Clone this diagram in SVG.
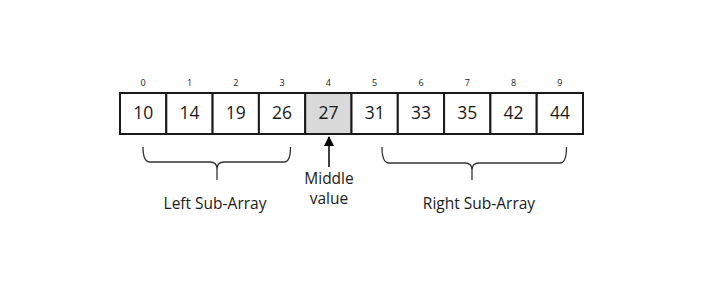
<svg xmlns="http://www.w3.org/2000/svg" width="701" height="300" viewBox="0 0 701 300">
<style>
.cell{fill:#ffffff;stroke:#1a1a1a;stroke-width:2}
.mid{fill:#d9d9d9}
.num{font-family:"Open Sans",sans-serif;font-size:17.5px;fill:#1a1a1a;text-anchor:middle}
.idx{font-family:"Open Sans",sans-serif;font-size:9px;fill:#1a1a1a;text-anchor:middle}
.lbl{font-family:"Open Sans",sans-serif;font-size:15.5px;fill:#1a1a1a;text-anchor:middle}
.brace{fill:none;stroke:#333;stroke-width:1.3}
</style>
<defs>
<marker id="ah" viewBox="0 0 10 10" refX="9" refY="5" markerWidth="10" markerHeight="10" markerUnits="userSpaceOnUse" orient="auto">
<path d="M0,0 L10,5 L0,10 z" fill="#000"/>
</marker>
</defs>
<g id="array">
<g id="c0"><rect class="cell" x="120" y="93" width="46.3" height="41"/><text class="idx" x="143.2" y="86">0</text><text class="num" x="143.2" y="119">10</text></g>
<g id="c1"><rect class="cell" x="166.3" y="93" width="46.3" height="41"/><text class="idx" x="189.5" y="86">1</text><text class="num" x="189.5" y="119">14</text></g>
<g id="c2"><rect class="cell" x="212.6" y="93" width="46.3" height="41"/><text class="idx" x="235.8" y="86">2</text><text class="num" x="235.8" y="119">19</text></g>
<g id="c3"><rect class="cell" x="258.9" y="93" width="46.3" height="41"/><text class="idx" x="282.1" y="86">3</text><text class="num" x="282.1" y="119">26</text></g>
<g id="c4"><rect class="cell mid" x="305.2" y="93" width="46.3" height="41"/><text class="idx" x="328.4" y="86">4</text><text class="num" x="328.4" y="119">27</text></g>
<g id="c5"><rect class="cell" x="351.5" y="93" width="46.3" height="41"/><text class="idx" x="374.7" y="86">5</text><text class="num" x="374.7" y="119">31</text></g>
<g id="c6"><rect class="cell" x="397.8" y="93" width="46.3" height="41"/><text class="idx" x="421" y="86">6</text><text class="num" x="421" y="119">33</text></g>
<g id="c7"><rect class="cell" x="444.1" y="93" width="46.3" height="41"/><text class="idx" x="467.3" y="86">7</text><text class="num" x="467.3" y="119">35</text></g>
<g id="c8"><rect class="cell" x="490.4" y="93" width="46.3" height="41"/><text class="idx" x="513.6" y="86">8</text><text class="num" x="513.6" y="119">42</text></g>
<g id="c9"><rect class="cell" x="536.7" y="93" width="46.3" height="41"/><text class="idx" x="559.9" y="86">9</text><text class="num" x="559.9" y="119">44</text></g>
</g>
<g id="connectors">
<path class="brace" d="M143,147 Q143,162 150,162 L210,162 Q217,162 217,169 L217,180 M217,169 Q217,162 224,162 L284,162 Q290.5,162 290.5,147"/>
<path class="brace" d="M382,147 Q382,163 389,163 L465,163 Q472,163 472,170 L472,180 M472,170 Q472,163 479,163 L560,163 Q566.5,163 566.5,147"/>
<line x1="329" y1="167" x2="329" y2="137" stroke="#000" stroke-width="1.5" marker-end="url(#ah)"/>
</g>
<g id="labels">
<text class="lbl" x="329" y="184">Middle</text>
<text class="lbl" x="329" y="204">value</text>
<text class="lbl" x="215" y="209">Left Sub-Array</text>
<text class="lbl" x="479" y="209">Right Sub-Array</text>
</g>
</svg>
